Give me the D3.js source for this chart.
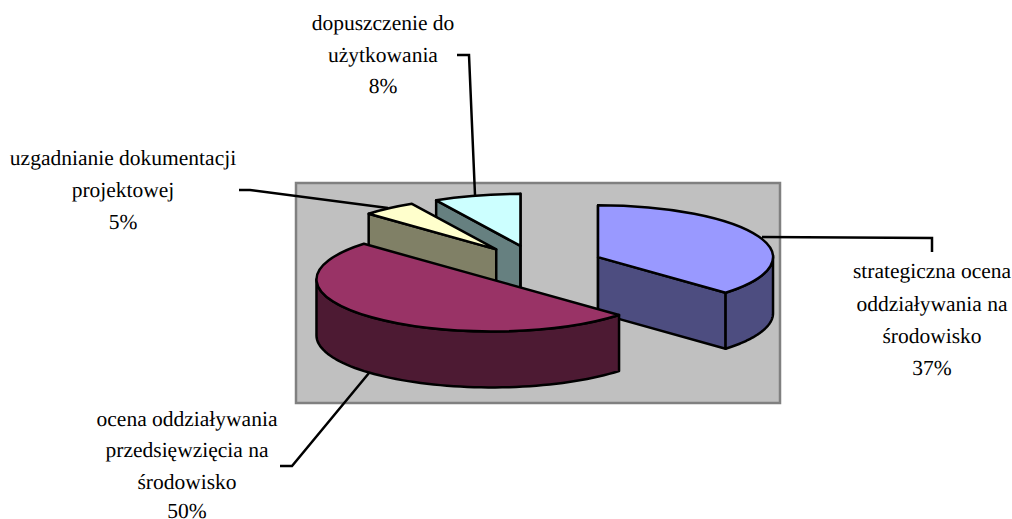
<!DOCTYPE html>
<html>
<head>
<meta charset="utf-8">
<script src="https://cdn.jsdelivr.net/npm/d3@7"></script>
<style>
  body { margin: 0; background: #fff; }
  text { font-family: "Liberation Serif", serif; font-size: 21.5px; fill: #000; text-anchor: middle; text-rendering: geometricPrecision; }
</style>
</head>
<body>
<svg id="svg" width="1012" height="519"></svg>
<script>
const categories = [
  ["strategiczna ocena", "oddziaływania na", "środowisko"],
  ["ocena oddziaływania", "przedsięwzięcia na", "środowisko"],
  ["uzgadnianie dokumentacji", "projektowej"],
  ["dopuszczenie do", "użytkowania"]
];
const values = [37, 50, 5, 8];
const topColors = ["#9999FF", "#993366", "#FFFFCC", "#CCFFFF"];
const wallColors = ["#4D4D80", "#4D1A33", "#808066", "#668080"];

// label centre and line baselines, then the leader line, for each slice
const labelX = [932, 187, 123, 383];
const labelY = [
  [278, 311, 343, 375],
  [426, 457, 489, 518],
  [165, 197, 229],
  [30, 62, 93]
];
const leaders = [
  [[762, 237], [932, 238], [932, 252]],
  [[369, 373], [292, 466], [280, 466]],
  [[388, 208], [250, 190], [239, 190]],
  [[475, 195], [469, 55], [457, 55]]
];

const cx = 537, cy = 265, rx = 175, ry = 52, depth = 56, explode = 0.38;

const svg = d3.select("#svg");

// plot area
svg.append("rect")
  .attr("x", 296).attr("y", 183)
  .attr("width", 484).attr("height", 220)
  .attr("fill", "#C0C0C0")
  .attr("stroke", "#808080")
  .attr("stroke-width", 2.5);

const arcs = d3.pie().sort(null)(values).map((d, i) => {
  const mid = (d.startAngle + d.endAngle) / 2;
  return {
    ...d, i, mid,
    x: cx + explode * rx * Math.sin(mid),
    y: cy - explode * ry * Math.cos(mid)
  };
});

const rim = (d, a, h) => [d.x + rx * Math.sin(a), d.y - ry * Math.cos(a) + h];
const line = d3.line();
const arcTop = d3.arc().innerRadius(0).outerRadius(rx);

// back slices first
const slices = arcs.slice().sort((a, b) => Math.cos(b.mid) - Math.cos(a.mid));

const node = svg.selectAll(".slice")
  .data(slices)
  .join("g")
  .attr("class", "slice")
  .attr("stroke", "#000")
  .attr("stroke-width", 2.5)
  .attr("stroke-linejoin", "round");

// cut faces, only those turned towards the viewer
const face = (sel, angle) => sel.append("path")
  .attr("fill", d => wallColors[d.i])
  .attr("d", d => line([
    [d.x, d.y], rim(d, angle(d), 0), rim(d, angle(d), depth), [d.x, d.y + depth]
  ]) + "Z");
face(node.filter(d => Math.sin(d.startAngle) < 1e-9), d => d.startAngle);
face(node.filter(d => Math.sin(d.endAngle) > -1e-9), d => d.endAngle);

// outer wall, only the part that faces the viewer
node.filter(d => Math.max(d.startAngle, Math.PI / 2) < Math.min(d.endAngle, 1.5 * Math.PI))
  .append("path")
  .attr("fill", d => wallColors[d.i])
  .attr("d", d => {
    const from = Math.max(d.startAngle, Math.PI / 2);
    const to = Math.min(d.endAngle, 1.5 * Math.PI);
    const angles = d3.range(61).map(k => from + (to - from) * k / 60);
    return line([
      ...angles.map(a => rim(d, a, 0)),
      ...angles.slice().reverse().map(a => rim(d, a, depth))
    ]) + "Z";
  });

// top
node.append("path")
  .attr("fill", d => topColors[d.i])
  .attr("vector-effect", "non-scaling-stroke")
  .attr("transform", d => `translate(${d.x},${d.y}) scale(1,${ry / rx})`)
  .attr("d", d => arcTop(d));

// leaders
svg.selectAll(".leader")
  .data(leaders)
  .join("path")
  .attr("class", "leader")
  .attr("fill", "none")
  .attr("stroke", "#000")
  .attr("stroke-width", 2.5)
  .attr("d", d => line(d));

// labels
const label = svg.selectAll(".label")
  .data(categories)
  .join("text")
  .attr("class", "label");

label.selectAll("tspan")
  .data((d, i) => [...d, values[i] + "%"].map((t, k) => ({ t, x: labelX[i], y: labelY[i][k] })))
  .join("tspan")
  .attr("x", d => d.x)
  .attr("y", d => d.y)
  .text(d => d.t);
</script>
</body>
</html>
